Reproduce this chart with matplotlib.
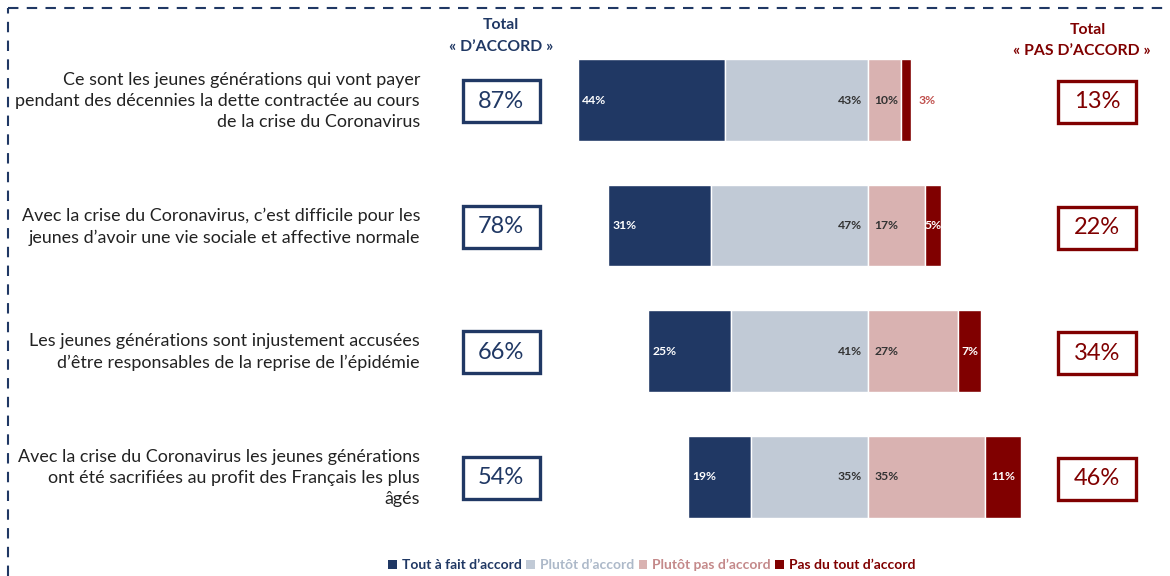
import matplotlib
matplotlib.use('Agg')
import matplotlib.pyplot as plt
from matplotlib.patches import Rectangle
from matplotlib.lines import Line2D

plt.rcParams['font.family'] = ['Lato', 'DejaVu Sans']

statements = [
   'Ce sont les jeunes générations qui vont payer\npendant des décennies la dette contractée au cours\nde la crise du Coronavirus',
   'Avec la crise du Coronavirus, c’est difficile pour les\njeunes d’avoir une vie sociale et affective normale',
   'Les jeunes générations sont injustement accusées\nd’être responsables de la reprise de l’épidémie',
   'Avec la crise du Coronavirus les jeunes générations\nont été sacrifiées au profit des Français les plus\nâgés',
]
tout_accord = [44, 31, 25, 19]
plutot_accord = [43, 47, 41, 35]
plutot_pas = [10, 17, 27, 35]
pas_du_tout = [3, 5, 7, 11]
total_accord = [87, 78, 66, 54]
total_pas = [13, 22, 34, 46]
legend_labels = ['Tout à fait d’accord', 'Plutôt d’accord', 'Plutôt pas d’accord', 'Pas du tout d’accord']

navy = '#203864'
light = '#C1CAD6'
pink = '#D9B2B1'
dred = '#800000'
legend_txt = [navy, '#ADB9C9', '#C4898A', dred]

W, H = 1170, 576
fig = plt.figure(figsize=(W/100, H/100), dpi=100)
ax = fig.add_axes([0, 0, 1, 1])
# x in percent, 0 at pixel 868, 3.33 px per percent
ppp = 3.33
ax.set_xlim(-868/ppp, (W-868)/ppp)
rs = 125.6
ax.set_ylim((H-100)/rs, -100/rs)
ax.axis('off')

rows = range(len(statements))
bh = 0.65
kw = dict(height=bh, edgecolor='white', linewidth=1)
b1 = ax.barh(rows, [-v for v in tout_accord], left=[-a for a in plutot_accord], color=navy, **kw)
b2 = ax.barh(rows, [-v for v in plutot_accord], color=light, **kw)
b3 = ax.barh(rows, plutot_pas, color=pink, **kw)
b4 = ax.barh(rows, pas_du_tout, left=plutot_pas, color=dred, **kw)

lab = dict(fontsize=8.7, fontweight='bold', va='center')
for i in rows:
   a, b, c, d = tout_accord[i], plutot_accord[i], plutot_pas[i], pas_du_tout[i]
   ax.text(-(a+b)+1.2, i, f'{a}%', color='white', ha='left', **lab)
   ax.text(-1.8, i, f'{b}%', color='#333333', ha='right', **lab)
   ax.text(2.0, i, f'{c}%', color='#333333', ha='left', **lab)
   if d < 4:
      ax.text(c+d+2.2, i, f'{d}%', color='#C0504D', ha='left', **lab)
   else:
      ax.text(c+d/2, i, f'{d}%', color='white', ha='center', **lab)

   yc = 1-(101+i*rs)/H
   # statement text
   ax.text(420/W, yc, statements[i], transform=ax.transAxes, ha='right', va='center',
           fontsize=12.9, color='#222222', linespacing=1.4)
   # total boxes
   ax.add_patch(Rectangle((463/W, yc-21/H), 77/W, 42/H, transform=ax.transAxes,
                          fc='white', ec=navy, lw=2.4, zorder=3))
   ax.text(501/W, yc, f'{total_accord[i]}%', transform=ax.transAxes, ha='center', va='center',
           fontsize=17, color=navy, zorder=5)
   ax.add_patch(Rectangle((1058/W, yc-22/H), 78/W, 42/H, transform=ax.transAxes,
                          fc='white', ec=dred, lw=2.4, zorder=3))
   ax.text(1097/W, yc-1/H, f'{total_pas[i]}%', transform=ax.transAxes, ha='center', va='center',
           fontsize=17, color=dred, zorder=5)

hd = dict(transform=ax.transAxes, ha='center', va='center', fontsize=11.3, fontweight='bold')
ax.text(501/W, 1-25/H, 'Total', color=navy, **hd)
ax.text(501/W, 1-47/H, '« D’ACCORD »', color=navy, **hd)
ax.text(1088/W, 1-30/H, 'Total', color=dred, **hd)
ax.text(1082/W, 1-51/H, '« PAS D’ACCORD »', color=dred, **hd)

# dashed frame
fig.add_artist(Line2D([8/W, 1], [1-8/H, 1-8/H], color=navy, lw=1.5, ls=(0, (5, 4))))
fig.add_artist(Line2D([8/W, 8/W], [0, 1-8/H], color=navy, lw=1.5, ls=(0, (5, 4))))

handles = [b1, b2, b3, b4]
leg = ax.legend(handles, legend_labels, ncol=4, loc='center', bbox_to_anchor=(652/W, 1-565/H),
                frameon=False, handlelength=0.6, handleheight=0.6, handletextpad=0.4, columnspacing=0.3,
                prop={'size': 10, 'weight': 'bold'}, bbox_transform=ax.transAxes)
for t, c in zip(leg.get_texts(), legend_txt):
   t.set_color(c)
for h in leg.legend_handles:
   h.set_edgecolor('none')

fig.savefig('out.png', dpi=100)
